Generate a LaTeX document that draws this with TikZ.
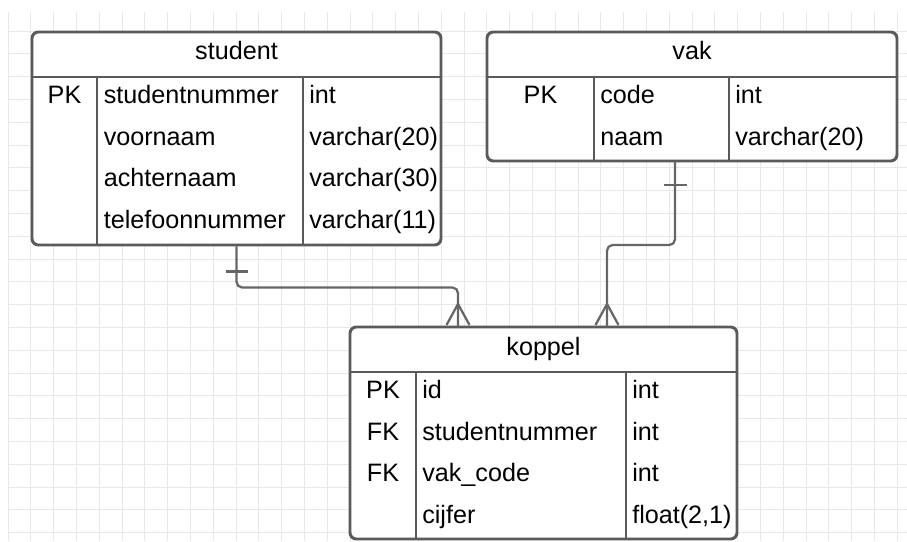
\documentclass[tikz,border=0pt]{standalone}
\usepackage{fontspec}
\setmainfont{Liberation Sans}
\usetikzlibrary{fit}
\definecolor{boxgray}{HTML}{5A5A5A}
\definecolor{linkgray}{HTML}{666666}
\definecolor{gridgray}{HTML}{E8E8E8}

\begin{document}
\begin{tikzpicture}[x=0.025cm,y=-0.025cm,
  ertable/.style={draw=boxgray,fill=white,line width=2.1pt,rounded corners=4.5pt,inner sep=0pt},
  sep/.style={draw=boxgray,line width=1.6pt},
  txt/.style={inner sep=0pt,font=\fontsize{17.9}{20}\selectfont,anchor=base west},
  ctr/.style={txt,anchor=base},
  gridline/.style={draw=gridgray,line width=0.7pt},
  relline/.style={draw=linkgray,line width=1.6pt,rounded corners=4pt},
  relmark/.style={draw=linkgray,line width=1.6pt}]
\useasboundingbox (0,0) rectangle (907,541);
% background grid
\foreach \i in {0,...,39} \draw[gridline] ({8+22.8*\i},12) -- ({8+22.8*\i},541);
\foreach \j in {0,...,22} \draw[gridline] (8,{31+22.8*\j}) -- (907,{31+22.8*\j});

% student
\node[ertable,fit={(32,32) (441,245)}] (student) {};
\draw[sep] (32,77) -- (441,77);
\draw[sep] (97,77) -- (97,245);
\draw[sep] (303,77) -- (303,245);
\node[ctr] (student-title) at (236.5,59) {student};
\node[ctr] (student-pk) at (64.5,103.5) {PK};
\node[txt] (student-c1) at (103.5,103.5) {studentnummer};
\node[txt] (student-c2) at (103.5,145.2) {voornaam};
\node[txt] (student-c3) at (103.5,186.9) {achternaam};
\node[txt] (student-c4) at (103.5,228.6) {telefoonnummer};
\node[txt] (student-t1) at (309,103.5) {int};
\node[txt] (student-t2) at (309,145.2) {varchar(20)};
\node[txt] (student-t3) at (309,186.9) {varchar(30)};
\node[txt] (student-t4) at (309,228.6) {varchar(11)};

% vak
\node[ertable,fit={(487,32) (897,161)}] (vak) {};
\draw[sep] (487,77) -- (897,77);
\draw[sep] (594,77) -- (594,161);
\draw[sep] (729,77) -- (729,161);
\node[ctr] (vak-title) at (692,59) {vak};
\node[ctr] (vak-pk) at (540.5,103.5) {PK};
\node[txt] (vak-c1) at (600,103.5) {code};
\node[txt] (vak-c2) at (600,145.2) {naam};
\node[txt] (vak-t1) at (735,103.5) {int};
\node[txt] (vak-t2) at (735,145.2) {varchar(20)};

% koppel
\node[ertable,fit={(350,327) (737,539)}] (koppel) {};
\draw[sep] (350,372) -- (737,372);
\draw[sep] (416,372) -- (416,539);
\draw[sep] (626,372) -- (626,539);
\node[ctr] (koppel-title) at (543.5,355) {koppel};
\node[ctr] (koppel-pk) at (383,398.3) {PK};
\node[ctr] (koppel-fk1) at (383,440) {FK};
\node[ctr] (koppel-fk2) at (383,481.7) {FK};
\node[txt] (koppel-c1) at (422,398.3) {id};
\node[txt] (koppel-c2) at (422,440) {studentnummer};
\node[txt] (koppel-c3) at (422,481.7) {vak\_code};
\node[txt] (koppel-c4) at (422,523.4) {cijfer};
\node[txt] (koppel-t1) at (632,398.3) {int};
\node[txt] (koppel-t2) at (632,440) {int};
\node[txt] (koppel-t3) at (632,481.7) {int};
\node[txt] (koppel-t4) at (632,523.4) {float(2,1)};

% relations
\coordinate (vak-out) at (675,161);
\coordinate (kop-in1) at (458,327);
\coordinate (kop-in2) at (607,327);
\draw[relline] (student.south) -- ++(0,41) -| (kop-in1);
\draw[relline] (vak-out) -- ++(0,84) -| (kop-in2);
\draw[relmark] ([shift={(-11,25)}]student.south) -- ([shift={(11,25)}]student.south);
\draw[relmark] ([shift={(-11.5,24)}]vak-out) -- ([shift={(11.5,24)}]vak-out);
\draw[relmark] ([shift={(-11.5,-2)}]kop-in1) -- ([shift={(0,-23)}]kop-in1) -- ([shift={(11.5,-2)}]kop-in1);
\draw[relmark] ([shift={(-11.5,-2)}]kop-in2) -- ([shift={(0,-23)}]kop-in2) -- ([shift={(11.5,-2)}]kop-in2);
\end{tikzpicture}
\end{document}
